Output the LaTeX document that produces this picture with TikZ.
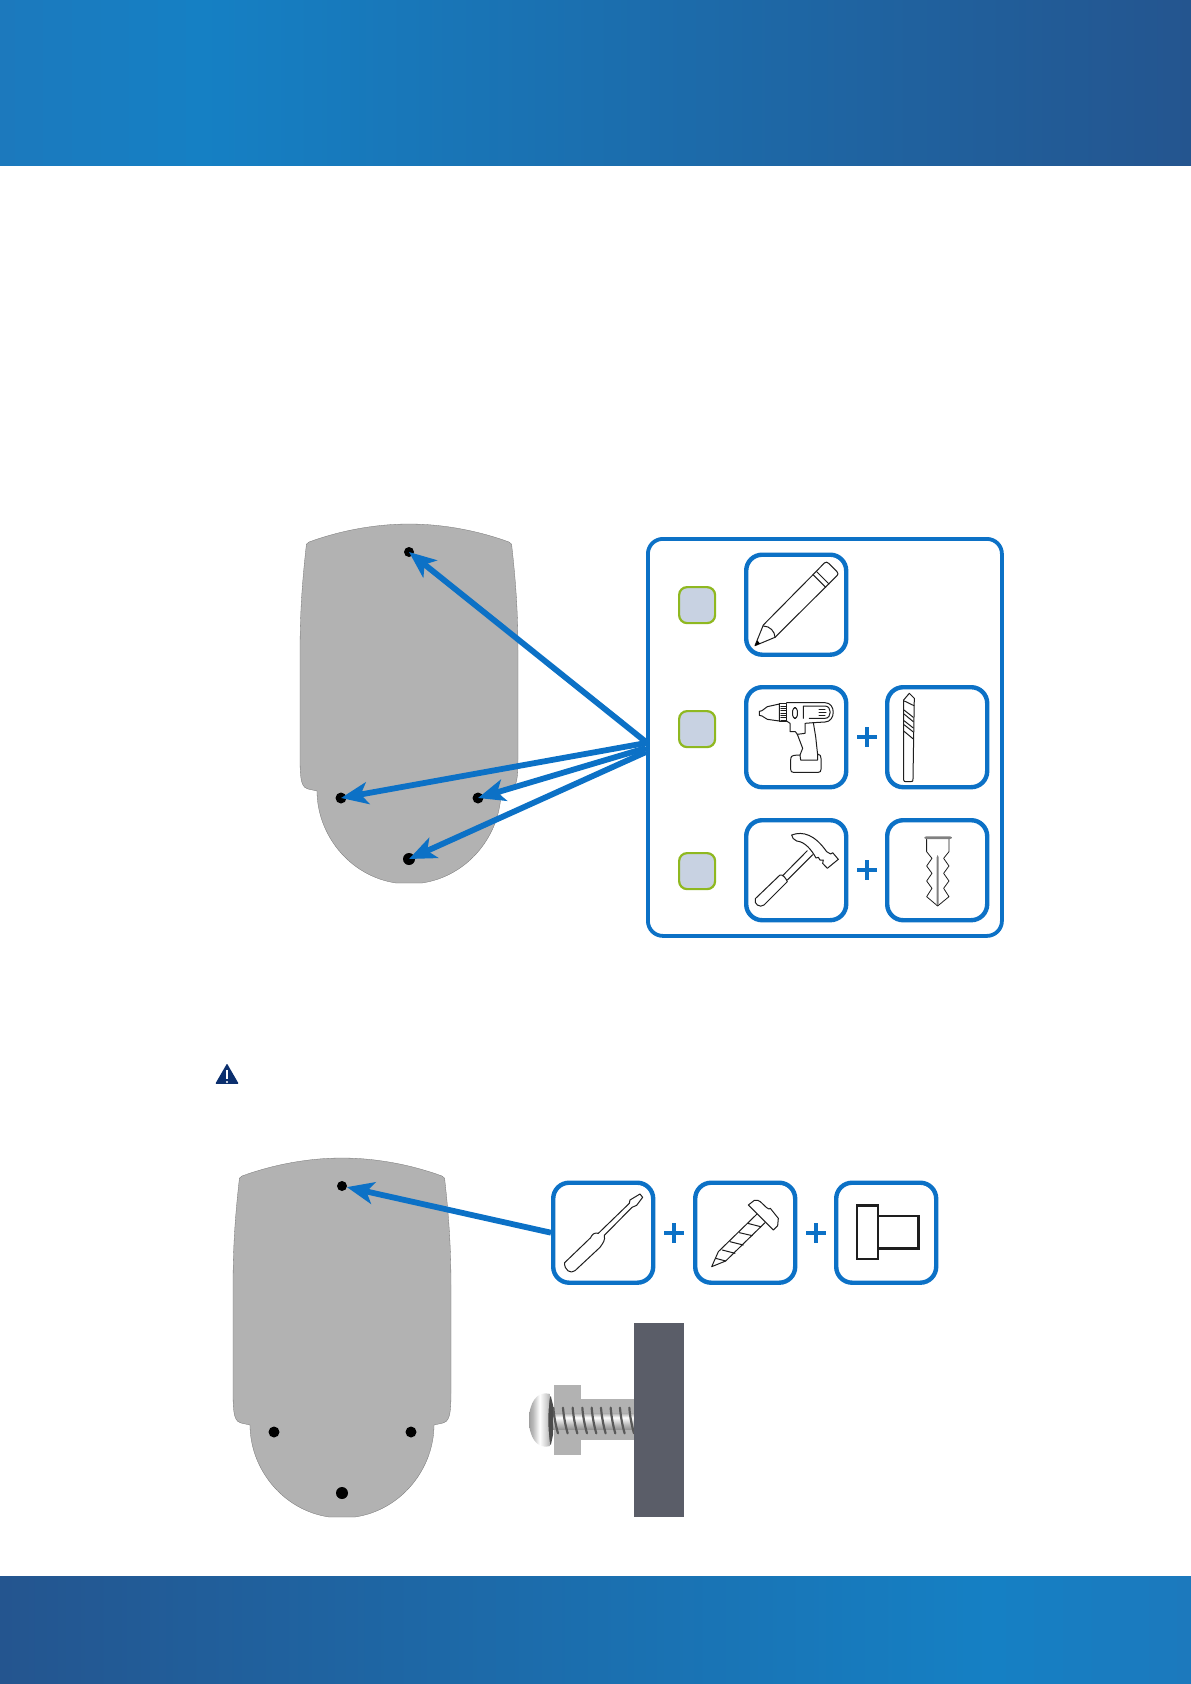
\documentclass[tikz,border=0pt]{standalone}
\usetikzlibrary{arrows.meta,shapes.geometric}
\definecolor{blu}{HTML}{0C71C6}
\definecolor{devgray}{HTML}{B2B2B2}
\definecolor{bandA}{HTML}{1580C4}
\definecolor{bandB}{HTML}{24558F}
\definecolor{bandC}{HTML}{1C79BD}
\definecolor{chkfill}{HTML}{C8D2E2}
\definecolor{chkline}{HTML}{8FB820}
\definecolor{wallc}{HTML}{5A5D68}
\definecolor{navy}{HTML}{0B2F6E}
\definecolor{ink}{HTML}{1E1E1E}
\pgfdeclarehorizontalshading{hdrshade}{100bp}{color(0bp)=(bandC);color(25bp)=(bandC);color(33.4bp)=(bandA);color(75bp)=(bandB);color(100bp)=(bandB)}
\pgfdeclarehorizontalshading{ftrshade}{100bp}{color(0bp)=(bandB);color(25bp)=(bandB);color(66.6bp)=(bandA);color(75bp)=(bandC);color(100bp)=(bandC)}
\pgfdeclareverticalshading{shaftshade}{100bp}{color(0bp)=(gray!85);color(25bp)=(gray!85);color(40bp)=(gray!55);color(62bp)=(white);color(75bp)=(gray!60);color(100bp)=(gray!60)}
\pgfdeclarehorizontalshading{headshade}{100bp}{color(0bp)=(gray!75);color(25bp)=(gray!75);color(34bp)=(gray!55);color(50bp)=(white);color(65bp)=(gray!35);color(75bp)=(gray!65);color(100bp)=(gray!65)}
\tikzset{
  toolbox/.style={draw=blu,line width=4.4pt,rounded corners=16pt,fill=white},
  panelbox/.style={draw=blu,line width=3.8pt,rounded corners=15pt,fill=white},
  chk/.style={draw=chkline,line width=2.2pt,rounded corners=8pt,fill=chkfill},
  hole/.style={circle,fill=black,inner sep=0pt,outer sep=0pt},
  arrowline/.style={draw=blu,line width=5.8pt,-{Stealth[length=27pt,width=22pt,inset=7pt]}},
  plusline/.style={draw=blu,line width=4.4pt},
  icon/.style={draw=ink,line width=1pt,line join=round,line cap=round},
  devbody/.style={fill=devgray,draw=gray!90!black,line width=.3pt},
  zoomA/.style={shift={(640,530)},x=.3333pt,y=-.3333pt},
  zoomB/.style={shift={(640,780)},x=.3333pt,y=-.3333pt},
  zoomC/.style={shift={(530,1160)},x=.3333pt,y=-.3333pt},
  zoomD/.style={shift={(510,1310)},x=.3333pt,y=-.3333pt},
  zoomE/.style={shift={(750,690)},x=.3333pt,y=-.3333pt},
  zoomF/.style={shift={(695,1185)},x=.3333pt,y=-.3333pt},
  zoomG/.style={shift={(525,1385)},x=.3333pt,y=-.3333pt},
}
\newcommand{\devshape}{%
  (-100,18) .. controls (-70,7) and (-35,0) .. (0,0)
  .. controls (35,0) and (70,7) .. (100,18)
  .. controls (103,19) and (103,21) .. (103,24)
  .. controls (107,60) and (109,90) .. (109,130)
  -- (109,235)
  .. controls (109,250) and (108,258) .. (106,261)
  .. controls (105,263) and (104,264) .. (101,265)
  -- (92,267)
  .. controls (92,310) and (60,352) .. (13,359)
  -- (-13,359)
  .. controls (-60,352) and (-92,310) .. (-92,267)
  -- (-101,265)
  .. controls (-104,264) and (-105,263) .. (-106,261)
  .. controls (-108,258) and (-109,250) .. (-109,235)
  -- (-109,130)
  .. controls (-109,90) and (-107,60) .. (-103,24)
  .. controls (-103,21) and (-103,19) .. (-100,18) -- cycle}
\begin{document}
\begin{tikzpicture}[x=1pt,y=-1pt]
\useasboundingbox (0,0) rectangle (1191,1684);
% bands
\path[shading=hdrshade] (0,0) rectangle (1191,165);
\path[shading=ftrshade] (0,1576) rectangle (1191,1684);
% first device
\begin{scope}[shift={(409,524)}]
  \path[devbody] \devshape;
\end{scope}
\node[hole,minimum size=10pt] (ha) at (409,552) {};
\node[hole,minimum size=11pt] (hb) at (341,798) {};
\node[hole,minimum size=11pt] (hc) at (478,798) {};
\node[hole,minimum size=12pt] (hd) at (409,859) {};
% panel
\node[panelbox,minimum width=354pt,minimum height=397pt,anchor=north west,inner sep=0pt] (panel) at (646,537) {};
\foreach \n/\yy in {ca/586,cb/710,cc/852}
  \node[chk,minimum width=36pt,minimum height=36pt,anchor=north west,inner sep=0pt] (\n) at (678,\yy) {};
\foreach \n/\xx/\yy in {ta/744/552.5,tb/744/685,tc/885/685,td/744/818,te/885/818,
                        tf/551/1180.5,tg/693/1180.5,th/834/1180.5}
  \node[toolbox,minimum width=100pt,minimum height=100pt,anchor=north west,inner sep=0pt] (\n) at (\xx,\yy) {};
% pluses
\foreach \xx/\yy in {867/737,867/870,674/1233,816/1233}
  \draw[plusline] (\xx-10,\yy) -- (\xx+10,\yy) (\xx,\yy-10) -- (\xx,\yy+10);
% arrows
\coordinate (s1) at (646,742);
\coordinate (s2) at (646,743);
\coordinate (s3) at (646,748);
\coordinate (s4) at (646,752);
\draw[arrowline] (s1) -- (ha.center);
\draw[arrowline] (s2) -- (hb.center);
\draw[arrowline] (s3) -- (hc.center);
\draw[arrowline] (s4) -- (hd.center);
% pencil and bit
\begin{scope}[zoomA]
  \draw[icon] (345,347) -- (370,285) -- (528,125) -- (553,99) .. controls (558,95) and (562,96) .. (566,100)
     -- (591,125) .. controls (595,130) and (595,132) .. (591,137) -- (405,322) -- cycle;
  \draw[icon] (370,288) .. controls (390,288) and (405,305) .. (405,322);
  \draw[icon] (520,135) -- (557,172) (530,125) -- (567,162);
  \fill[black] (345,347) -- (352,331) -- (360,341) -- cycle;
  \draw[icon] (791,510) -- (791,750) .. controls (791,755) and (795,755) .. (800,755) -- (812,755) .. controls (818,755) and (819,753) .. (819,750) -- (821,625) -- (823,505) -- (808,490) -- cycle;
  \draw[icon] (793,513) -- (822,527) (792,540) -- (820,562) (792,552) -- (820,575) (792,572) -- (820,594) (792,584) -- (820,606) (791,603) -- (820,627);
\end{scope}
% drill
\begin{scope}[zoomE]
  \draw[icon] (88,42) -- (52,50) -- (36,62) -- (28,64) -- (28,76) -- (36,78) -- (52,88) -- (88,93) -- cycle;
  \draw[icon] (88,40) rectangle (110,95);
  \foreach \yy in {48,55,62,69,76,83,90}
    \draw[icon,line width=.45pt] (92,\yy) -- (107,\yy);
  \draw[icon] (110,38) -- (225,38) .. controls (258,38) and (258,95) .. (225,96) -- (190,98)
    -- (197,140) -- (203,195) -- (205,193) .. controls (210,193) and (213,198) .. (213,205) -- (213,238)
    .. controls (213,244) and (210,247) .. (205,247) -- (130,247) .. controls (125,247) and (122,244) .. (122,238)
    -- (122,210) .. controls (122,200) and (126,196) .. (132,196) -- (150,195) -- (158,175) -- (142,133)
    -- (136,125) -- (120,125) -- (120,100) -- (110,93);
  \draw[icon] (150,195) -- (152,210) -- (203,210) -- (203,195);
  \draw[icon] (142,133) -- (165,130) -- (165,100) -- (190,98);
  \draw[icon,rounded corners=3pt] (128,53) rectangle (142,85);
  \draw[icon] (160,85) -- (160,48) -- (225,48) .. controls (246,48) and (246,85) .. (225,85) -- (178,85);
  \draw[icon] (207,58) -- (225,58) (207,67) -- (228,67) (207,76) -- (225,76);
\end{scope}
% hammer and anchor
\begin{scope}[zoomB]
  \draw[icon] (346,356) -- (420,285) .. controls (428,282) and (438,295) .. (442,305) -- (372,375)
     .. controls (360,385) and (340,372) .. (346,356) -- cycle;
  \draw[icon] (428,287) -- (502,212) (442,300) -- (518,224);
  \draw[icon] (455,165) .. controls (490,152) and (525,165) .. (560,215) -- (572,222) -- (578,218) -- (595,238) -- (562,265)
     -- (548,250) -- (550,240) -- (540,240) -- (535,232) -- (528,234) .. controls (515,210) and (495,185) .. (470,183)
     .. controls (462,180) and (455,172) .. (455,165) -- cycle;
  \fill[gray,rounded corners=2pt] (853,169) rectangle (936,177);
  \draw[icon,line width=.8pt] (860,178) -- (860,215) -- (876,235) -- (860,258) -- (876,280) -- (860,303) -- (876,325) -- (860,350)
     -- (893,378) -- (927,350) -- (911,325) -- (927,303) -- (911,280) -- (927,258) -- (911,235) -- (927,215) -- (927,178);
  \fill[gray] (890,232) -- (893,225) -- (896,232) -- (896,375) -- (890,375) -- cycle;
\end{scope}
% screwdriver and spacer
\begin{scope}[zoomC]
  \draw[icon] (300,120) -- (330,102) -- (338,112) -- (320,136) -- (306,142) -- (223,226)
     .. controls (226,240) and (220,248) .. (210,262) -- (135,332) .. controls (122,343) and (102,330) .. (104,308)
     -- (182,233) .. controls (186,222) and (195,217) .. (205,220) -- (298,130) -- cycle;
  \draw[draw=ink,line width=2.4pt] (1044,168) rectangle (1165,266);
  \draw[draw=ink,line width=2.4pt,fill=white] (981,137) rectangle (1044,297);
\end{scope}
% screw
\begin{scope}[zoomF]
  \draw[icon] (160,60) -- (178,46) .. controls (185,44) and (192,46) .. (196,50) -- (215,68) -- (222,72) -- (226,70)
    -- (250,100) -- (248,122) -- (235,135) -- cycle;
  \draw[icon] (185,88) -- (70,200) -- (50,245) -- (92,228) -- (210,113);
  \draw[icon] (158,115) -- (197,125) (133,143) -- (172,152) (105,170) -- (145,180) (82,195) -- (120,205) (62,220) -- (92,228);
\end{scope}
% second device
\begin{scope}[shift={(342,1158)}]
  \path[devbody] \devshape;
\end{scope}
\node[hole,minimum size=10pt] (ia) at (342,1186) {};
\node[hole,minimum size=11pt] (ib) at (274,1432) {};
\node[hole,minimum size=11pt] (ic) at (411,1432) {};
\node[hole,minimum size=12pt] (id) at (342,1493) {};
\draw[arrowline] (tf.west) -- (ia);
% warning sign
\node[regular polygon,regular polygon sides=3,fill=navy,inner sep=0pt,minimum size=27pt,rounded corners=.8pt] (warn) at (227,1077) {};
\draw[white,line width=1.7pt] (227,1070) -- (227,1079);
\fill[white] (227,1082) circle (1.1);
% bolt
\begin{scope}[zoomD]
  \fill[devgray] (132,225) rectangle (213,435);
  \fill[devgray] (213,267) rectangle (372,390);
\end{scope}
\begin{scope}[zoomG]
  \path[shading=shaftshade] (70,85) rectangle (330,133);
  \foreach \xx in {85,114,143,172,200,228,257,285,313}
    \draw[draw=gray!70!black,line width=2.2pt,line cap=round] (\xx,68) .. controls (\xx+2,95) and (\xx+8,125) .. (\xx+14,145);
  \fill[gray!60!black] (66,30) -- (78,35) -- (84,60) -- (84,150) -- (78,178) -- (66,183) -- cycle;
  \path[shading=headshade] (76,27) .. controls (35,15) and (12,55) .. (12,105) .. controls (12,155) and (35,195) .. (76,183)
     .. controls (68,130) and (68,80) .. (76,27) -- cycle;
\end{scope}
\begin{scope}[zoomD]
  \fill[wallc] (372,40) rectangle (521,620);
\end{scope}
\end{tikzpicture}
\end{document}
